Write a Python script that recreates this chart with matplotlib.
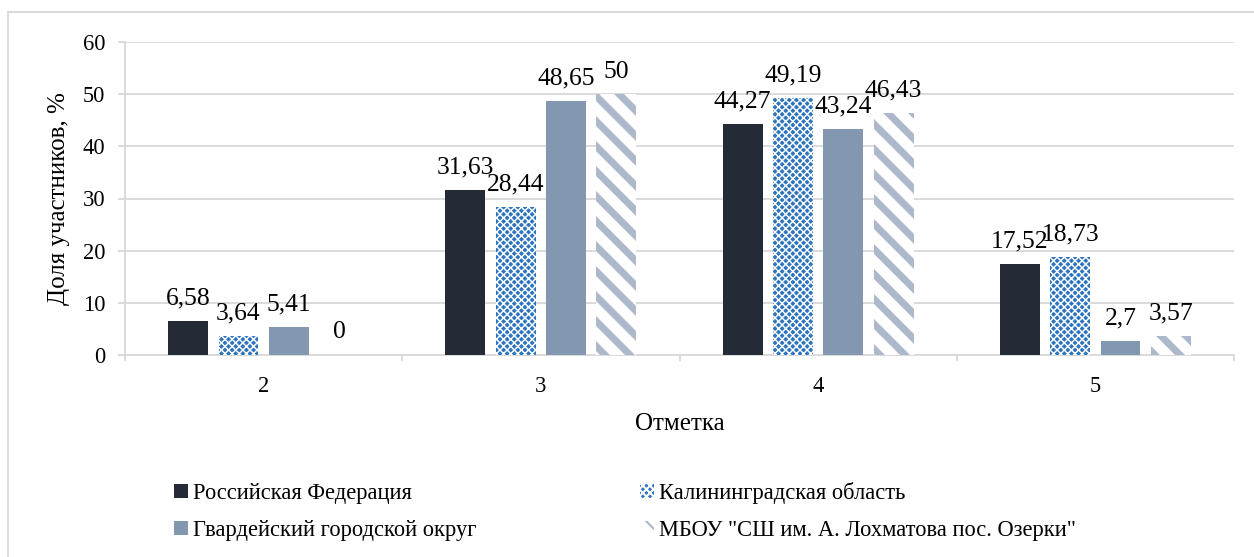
import matplotlib
matplotlib.use("Agg")
import matplotlib.pyplot as plt
from matplotlib.patches import Rectangle
import numpy as np

categories = ["2", "3", "4", "5"]
series_names = ["Российская Федерация", "Калининградская область",
                "Гвардейский городской округ", 'МБОУ "СШ им. А. Лохматова пос. Озерки"']
rf = [6.58, 31.63, 44.27, 17.52]
kal = [3.64, 28.44, 49.19, 18.73]
gvard = [5.41, 48.65, 43.24, 2.7]
school = [0, 50, 46.43, 3.57]
labels_rf = ["6,58", "31,63", "44,27", "17,52"]
labels_kal = ["3,64", "28,44", "49,19", "18,73"]
labels_gvard = ["5,41", "48,65", "43,24", "2,7"]
labels_school = ["0", "50", "46,43", "3,57"]
yticks = [0, 10, 20, 30, 40, 50, 60]

DPI = 150
W, H = 1254, 557
plt.rcParams['font.family'] = 'serif'
plt.rcParams['font.serif'] = ['Liberation Serif', 'DejaVu Serif']

TICK_FS = 10.8
LAB_FS = 12.3
AX_FS = 12.0

fig = plt.figure(figsize=(W / DPI, H / DPI), dpi=DPI)
ax = fig.add_axes([125 / W, 1 - 355 / H, (1234 - 125) / W, (355 - 42) / H])

x = np.arange(len(categories))
step = 0.1815
width = 0.144
styles = [
    dict(facecolor="#252b36", edgecolor="none", hatch=None, hlw=None),
    dict(facecolor="#2e75c0", edgecolor="white", hatch="xxxxxxx", hlw=0.7),
    dict(facecolor="#8497b0", edgecolor="none", hatch=None, hlw=None),
    dict(facecolor="white", edgecolor="#adb9ca", hatch="\\\\", hlw=3.4),
]
all_vals = [rf, kal, gvard, school]
all_labels = [labels_rf, labels_kal, labels_gvard, labels_school]

handles = []
for i, (vals, labs, st) in enumerate(zip(all_vals, all_labels, styles)):
    pos = x + (i - 1.5) * step
    rc = {'hatch.linewidth': st['hlw']} if st['hlw'] else {}
    with plt.rc_context(rc):
        bars = ax.bar(pos, vals, width=width, facecolor=st['facecolor'],
                      edgecolor=st['edgecolor'], hatch=st['hatch'], linewidth=0,
                      zorder=3, label=series_names[i])
        for b in bars:
            if st['hlw'] and hasattr(b, 'set_hatch_linewidth'):
                b.set_hatch_linewidth(st['hlw'])
    handles.append(bars)
    for p, v, l in zip(pos, vals, labs):
        ax.annotate(l, (p, v), xytext=(0, 10.8), textcoords='offset points',
                    ha='center', va='center', fontsize=LAB_FS, color='black')

ax.set_xlim(-0.5, len(categories) - 0.5)
ax.set_ylim(0, 60)
ax.set_yticks(yticks)
ax.set_yticklabels([str(t) for t in yticks], fontsize=TICK_FS)
ax.set_xticks(x)
ax.set_xticklabels(categories, fontsize=TICK_FS)
ax.set_xticks(np.arange(len(categories) + 1) - 0.5, minor=True)
ax.tick_params(axis='x', which='major', length=0, pad=10)
ax.tick_params(axis='x', which='minor', length=3, color='#d9d9d9', width=0.9, direction='out')
ax.tick_params(axis='y', length=3.4, color='#d9d9d9', width=0.9, pad=6)
ax.grid(axis='y', color='#d9d9d9', linewidth=0.9, zorder=0)
for s in ['top', 'right']:
    ax.spines[s].set_visible(False)
for s in ['left', 'bottom']:
    ax.spines[s].set_color('#d9d9d9')
    ax.spines[s].set_linewidth(0.9)

ax.set_ylabel("Доля участников, %", fontsize=AX_FS, labelpad=6)
ax.set_xlabel("Отметка", fontsize=AX_FS, labelpad=8)

order = [0, 2, 1, 3]
leg = fig.legend(handles=[handles[k] for k in order],
                 labels=[series_names[k] for k in order], ncol=2, frameon=False,
                 loc='upper left', bbox_to_anchor=(154 / W, 1 - 462 / H),
                 fontsize=TICK_FS, handlelength=0.6, handleheight=0.6,
                 handletextpad=0.25, columnspacing=7.25, labelspacing=0.7)

fig.patches.append(Rectangle((8 / W, -0.05), 1.1, 1 - 12 / H + 0.05,
                             transform=fig.transFigure, fill=False,
                             edgecolor='#d9d9d9', linewidth=0.9))

fig.savefig("out.png", dpi=DPI, facecolor='white')
